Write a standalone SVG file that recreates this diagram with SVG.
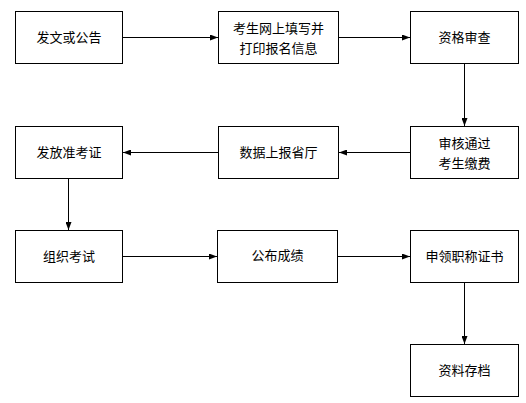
<svg xmlns="http://www.w3.org/2000/svg" width="526" height="403" viewBox="0 0 526 403">
<defs>
<style>
.box{fill:#fff;stroke:#000;stroke-width:1}
.t{font-family:"Noto Sans CJK SC","Noto Sans",sans-serif;font-size:13px;fill:#000;text-anchor:middle}
.c{stroke:#000;stroke-width:1;fill:none;marker-end:url(#ah)}
</style>
<marker id="ah" viewBox="0 0 8 6" refX="8" refY="3" markerWidth="8" markerHeight="6" markerUnits="userSpaceOnUse" orient="auto">
<path d="M0,0 L8,3 L0,6 Z" fill="#000"/>
</marker>
</defs>
<rect width="526" height="403" fill="#fff"/>
<g id="connectors">
<path class="c" d="M122.5,37.5 H218"/>
<path class="c" d="M338.5,37.5 H410"/>
<path class="c" d="M464.5,63.5 V126"/>
<path class="c" d="M410,152.5 H339"/>
<path class="c" d="M218,152.5 H123"/>
<path class="c" d="M68.5,178.5 V230"/>
<path class="c" d="M122.5,256.5 H217"/>
<path class="c" d="M337.5,256.5 H410"/>
<path class="c" d="M464.5,282.5 V344"/>
</g>
<g id="n1"><rect class="box" x="15.5" y="11.5" width="107" height="52"/><text class="t" x="69" y="42">发文或公告</text></g>
<g id="n2"><rect class="box" x="218.5" y="11.5" width="120" height="52"/><text class="t" x="278.5" y="33">考生网上填写并</text><text class="t" x="278.5" y="53">打印报名信息</text></g>
<g id="n3"><rect class="box" x="410.5" y="11.5" width="108" height="52"/><text class="t" x="464.5" y="42">资格审查</text></g>
<g id="n4"><rect class="box" x="410.5" y="126.5" width="108" height="52"/><text class="t" x="464.5" y="148">审核通过</text><text class="t" x="464.5" y="168">考生缴费</text></g>
<g id="n5"><rect class="box" x="218.5" y="126.5" width="120" height="52"/><text class="t" x="278.5" y="157">数据上报省厅</text></g>
<g id="n6"><rect class="box" x="15.5" y="126.5" width="107" height="52"/><text class="t" x="69" y="157">发放准考证</text></g>
<g id="n7"><rect class="box" x="15.5" y="230.5" width="107" height="52"/><text class="t" x="69" y="261">组织考试</text></g>
<g id="n8"><rect class="box" x="217.5" y="230.5" width="120" height="52"/><text class="t" x="277.5" y="260">公布成绩</text></g>
<g id="n9"><rect class="box" x="410.5" y="230.5" width="108" height="52"/><text class="t" x="464.5" y="261">申领职称证书</text></g>
<g id="n10"><rect class="box" x="410.5" y="344.5" width="108" height="52"/><text class="t" x="464.5" y="375">资料存档</text></g>
</svg>
